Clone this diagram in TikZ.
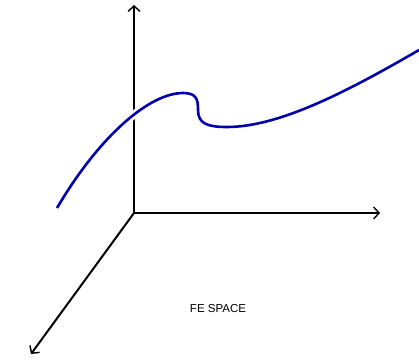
\documentclass[tikz,border=0pt]{standalone}
\usepackage{fontspec}
\setmainfont{Liberation Sans}
\usetikzlibrary{arrows.meta}
\definecolor{curveblue}{RGB}{0,0,175}
\begin{document}
\begin{tikzpicture}[x=1pt,y=-1pt,
  axis/.style={line width=2pt,-{Straight Barb[length=5.5pt,width=12pt,line width=1.4pt]}},
  feline/.style={curveblue,line width=2.6pt,preaction={draw=white,line width=8pt}}]
\useasboundingbox (0,0) rectangle (419,361);
\coordinate (O) at (134,213);
\coordinate (T) at (134,5);
\coordinate (R) at (380,213);
\coordinate (L) at (31,354);
\draw[axis] (O) -- (T);
\draw[axis] (O) -- (R);
\draw[axis] (O) -- (L);
\coordinate (s) at (57,208);
\coordinate (p) at (183,93);
\coordinate (d) at (198,110);
\coordinate (m) at (227,127);
\coordinate (e) at (419,50);
\draw[feline] (s) .. controls (100,135) and (150,93) .. (p)
  .. controls (197,93) and (198,100) .. (d)
  .. controls (198,124) and (208,127) .. (m)
  .. controls (280,127) and (350,90) .. (e);
\node[font=\fontsize{11.5}{13}\selectfont] (lab) at (218,309) {FE SPACE};
\end{tikzpicture}
\end{document}
